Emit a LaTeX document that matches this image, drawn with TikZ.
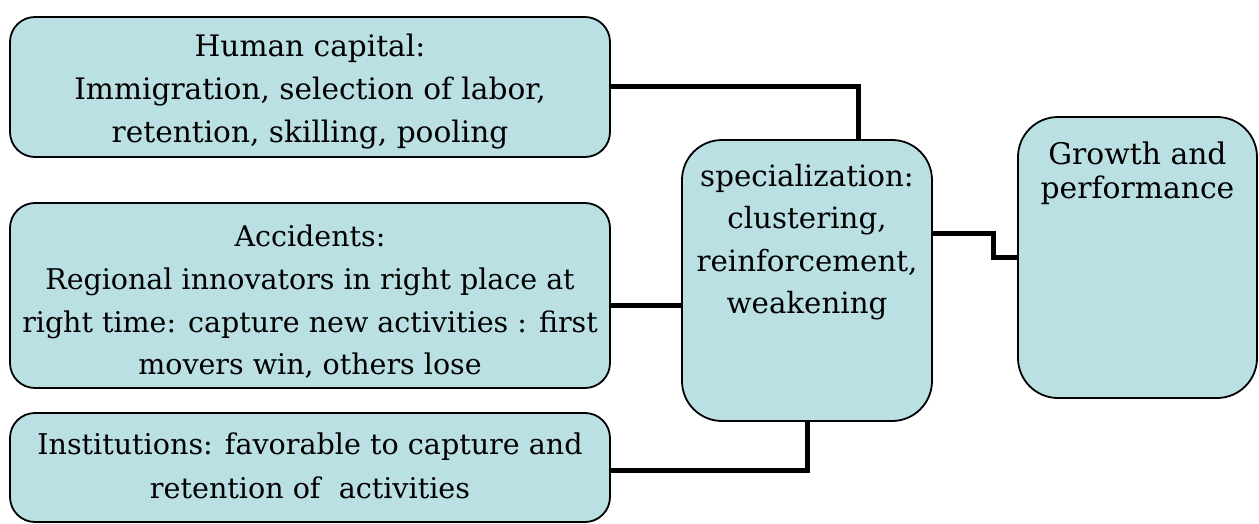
\documentclass[tikz,border=0pt]{standalone}
\usepackage{fontspec}
\setmainfont{DejaVu Serif}
\definecolor{boxfill}{HTML}{BAE0E3}
\tikzset{
  box/.style={draw=black, line width=1.8pt, fill=boxfill, rounded corners=#1, inner sep=0pt},
  box/.default=25pt,
  txt/.style={align=center, inner sep=0pt, text=black},
  conn/.style={draw=black, line width=5pt},
}
\begin{document}
\begin{tikzpicture}[x=1pt,y=-1pt]
\useasboundingbox (0,0) rectangle (1259,524);
% boxes
\node[box, minimum width=600pt, minimum height=140pt] (hc) at (310,87) {};
\node[box, minimum width=600pt, minimum height=185pt] (acc) at (310,295.5) {};
\node[box, minimum width=600pt, minimum height=109pt] (inst) at (310,467.5) {};
\node[box=40pt, minimum width=250pt, minimum height=281pt] (sp) at (807,280.5) {};
\node[box=40pt, minimum width=239pt, minimum height=281pt] (gr) at (1137.5,257.5) {};
% texts
\node[txt, font=\fontsize{29.6}{43}\selectfont] (hct) at (310,92) {Human capital:\\Immigration, selection of labor,\\retention, skilling, pooling};
\node[txt, font=\fontsize{28.5}{42.7}\selectfont] (acct) at (310,302) {Accidents:\\Regional innovators in right place at\\right time: capture new activities : first\\movers win, others lose};
\node[txt, font=\fontsize{28.6}{44}\selectfont] (instt) at (310,466) {Institutions: favorable to capture and\\retention of \ activities};
\node[txt, font=\fontsize{29.3}{42.5}\selectfont] (spt) at (807,242) {specialization:\\clustering,\\reinforcement,\\weakening};
\node[txt, font=\fontsize{29.8}{34}\selectfont] (grt) at (1137.5,173) {Growth and\\performance};
% connectors
\draw[conn] (hc.east) -| ([xshift=51pt]sp.north);
\coordinate (c2) at ([yshift=-9.5pt]acc.east);
\draw[conn] (c2) -- (c2 -| sp.west);
\draw[conn] ([yshift=-2.5pt]inst.east) -| (sp.south);
\draw[conn] ([yshift=47.5pt]sp.east) -- ++(61pt,0) |- (gr.west);
\end{tikzpicture}
\end{document}
